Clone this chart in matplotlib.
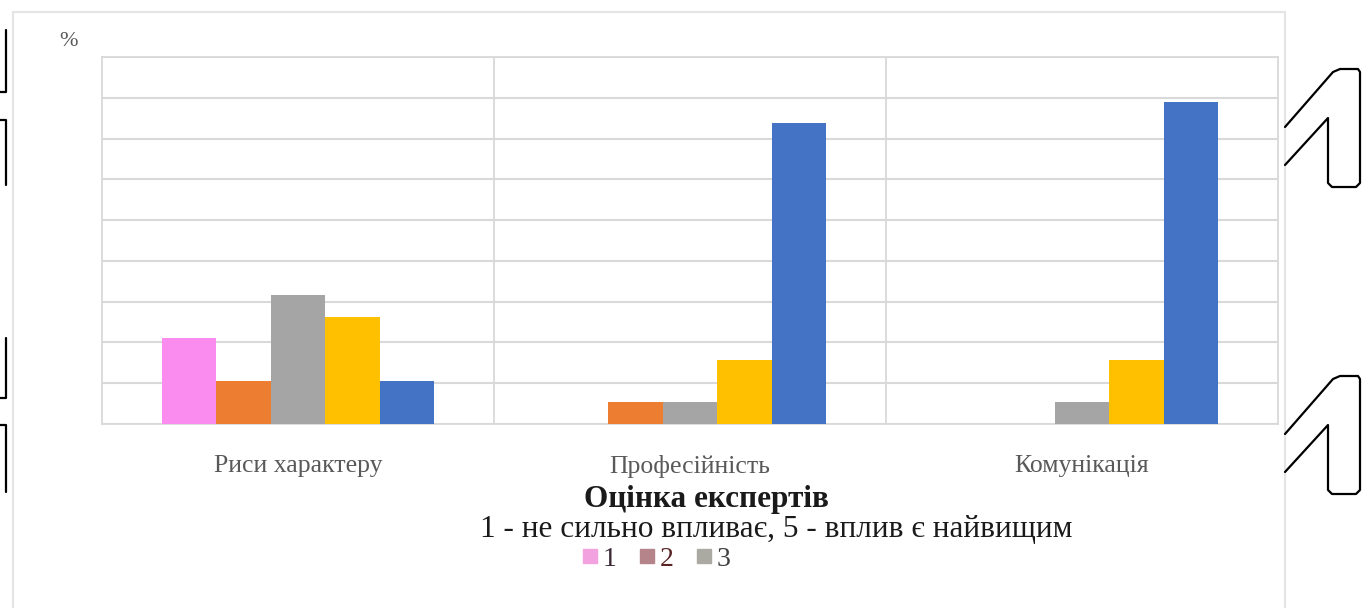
import matplotlib
matplotlib.use("Agg")
import matplotlib.pyplot as plt
from matplotlib.lines import Line2D
from matplotlib.patches import Rectangle
import numpy as np

plt.rcParams['font.family'] = ['Liberation Serif', 'DejaVu Serif']

# Share of experts (%) giving each score, per quality
categories = ["Риси характеру", "Професійність", "Комунікація"]
series_names = ["1", "2", "3", "4", "5"]
score_1 = [21.1, 0.0, 0.0]
score_2 = [10.5, 5.3, 0.0]
score_3 = [31.6, 5.3, 5.3]
score_4 = [26.3, 15.8, 15.8]
score_5 = [10.5, 73.7, 78.9]
series_values = [score_1, score_2, score_3, score_4, score_5]
series_colors = ["#FA8BEF", "#ED7D31", "#A5A5A5", "#FFC000", "#4472C4"]

# Legend entries shown under the chart
legend_labels = ["1", "2", "3"]
legend_colors = ["#F2A2DF", "#B5838A", "#AAAAA3"]
legend_text_colors = ["#3c2a36", "#5a2424", "#3f3f3f"]

W, H = 1369, 608
fig = plt.figure(figsize=(W / 100, H / 100), dpi=100)
fig.patch.set_facecolor("white")


def px(x, y):
    return x / W, 1 - y / H


# chart frame
fx0, fy0 = px(13, 640)
fx1, fy1 = px(1285, 12)
fig.patches.append(Rectangle((fx0, fy0), fx1 - fx0, fy1 - fy0,
                             transform=fig.transFigure, fill=False,
                             edgecolor="#e4e4e4", linewidth=1.5, zorder=0))

l, t = px(102, 57)
r, b = px(1278, 424)
ax = fig.add_axes([l, b, r - l, t - b])

n_series = len(series_values)
bar_w = 0.139
x = np.arange(len(categories))
for i, (vals, col) in enumerate(zip(series_values, series_colors)):
    ax.bar(x + (i - (n_series - 1) / 2) * bar_w, vals, width=bar_w,
           color=col, label=series_names[i], zorder=3, linewidth=0)

ax.set_xlim(-0.5, len(categories) - 0.5)
ax.set_ylim(0, 90)
ax.set_yticks(np.arange(0, 91, 10))
ax.set_yticklabels([])
ax.tick_params(axis="y", length=0)
ax.grid(axis="y", color="#d9d9d9", linewidth=1.5, zorder=0)
for sep in x[:-1] + 0.5:
    ax.axvline(sep, color="#d9d9d9", linewidth=1.3, zorder=0)
for s in ax.spines.values():
    s.set_color("#d9d9d9")
    s.set_linewidth(1.3)
ax.set_xticks(x)
ax.set_xticklabels(categories, fontsize=18.5, color="#595959")
ax.tick_params(axis="x", length=0, pad=22)

fig.text(*px(68, 42), "%", fontsize=16, color="#595959", ha="center", va="center")
fig.text(*px(706, 500), "Оцінка експертів", fontsize=22.5, fontweight="bold",
         color="#1a1a1a", ha="center", va="center")
fig.text(*px(776, 530), "1 - не сильно впливає, 5 - вплив є найвищим",
         fontsize=22.5, color="#1a1a1a", ha="center", va="center")

handles = [Line2D([], [], marker="s", linestyle="none", markersize=10,
                  markerfacecolor=c, markeredgecolor=c) for c in legend_colors]
leg = fig.legend(handles, legend_labels, loc="center", bbox_to_anchor=px(655, 559),
                 ncol=3, frameon=False, fontsize=20, handletextpad=0.05,
                 columnspacing=0.7, handlelength=0.8, borderpad=0.1)
for txt, c in zip(leg.get_texts(), legend_text_colors):
    txt.set_color(c)

# neighbouring page outlines at the edges
def stroke(points):
    xs, ys = zip(*[px(a, c) for a, c in points])
    fig.add_artist(Line2D(xs, ys, transform=fig.transFigure, color="black",
                          linewidth=1.6, solid_capstyle="round"))

stroke([(6, 30), (6, 92), (0, 92)])
stroke([(0, 120), (6, 120), (6, 185)])
stroke([(6, 338), (6, 398), (0, 398)])
stroke([(0, 425), (6, 425), (6, 492)])
for dy in (0, 307):
    stroke([(1285, 127 + dy), (1333, 72 + dy), (1340, 69 + dy), (1358, 69 + dy),
            (1360, 72 + dy), (1360, 183 + dy), (1356, 187 + dy), (1332, 187 + dy),
            (1328, 183 + dy), (1328, 118 + dy), (1285, 165 + dy)])

fig.savefig("out.png", dpi=100, facecolor="white")
